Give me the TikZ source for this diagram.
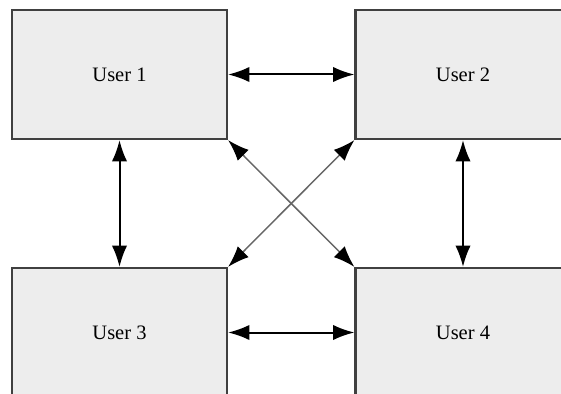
\documentclass[tikz,border=0pt]{standalone}
\usepackage{fontspec}
\setmainfont{Liberation Serif}
\usetikzlibrary{positioning}
\usetikzlibrary{arrows.meta}

\begin{document}
\begin{tikzpicture}[x=0.03cm, y=-0.03cm, >={Latex[length=0.64cm,width=0.46cm,color=black]},
    user/.style={draw=black!75, fill=black!7, line width=0.065cm, minimum width=6.45cm, minimum height=3.87cm, inner sep=0pt, font=\fontsize{17.5}{20}\selectfont},
    link/.style={<->, line width=0.06cm},
    cross/.style={<->, draw=black!60, line width=0.045cm}]
    \useasboundingbox (0,0) rectangle (561,394);
    \clip (0,0) rectangle (561,394);

    % the four user boxes
    \node[user] at (119.5, 74.5) (user1) {User 1};
    \node[user] at (463, 74.5) (user2) {User 2};
    \node[user] at (119.5, 332.5) (user3) {User 3};
    \node[user] at (463, 332.5) (user4) {User 4};

    % the arrows between them
    \draw[link] (user1) to (user2);
    \draw[link] (user3) to (user4);
    \draw[link] (user1) to (user3);
    \draw[link] (user2) to (user4);
    \draw[cross] (user1.south east) to (user4.north west);
    \draw[cross] (user2.south west) to (user3.north east);
\end{tikzpicture}
\end{document}
